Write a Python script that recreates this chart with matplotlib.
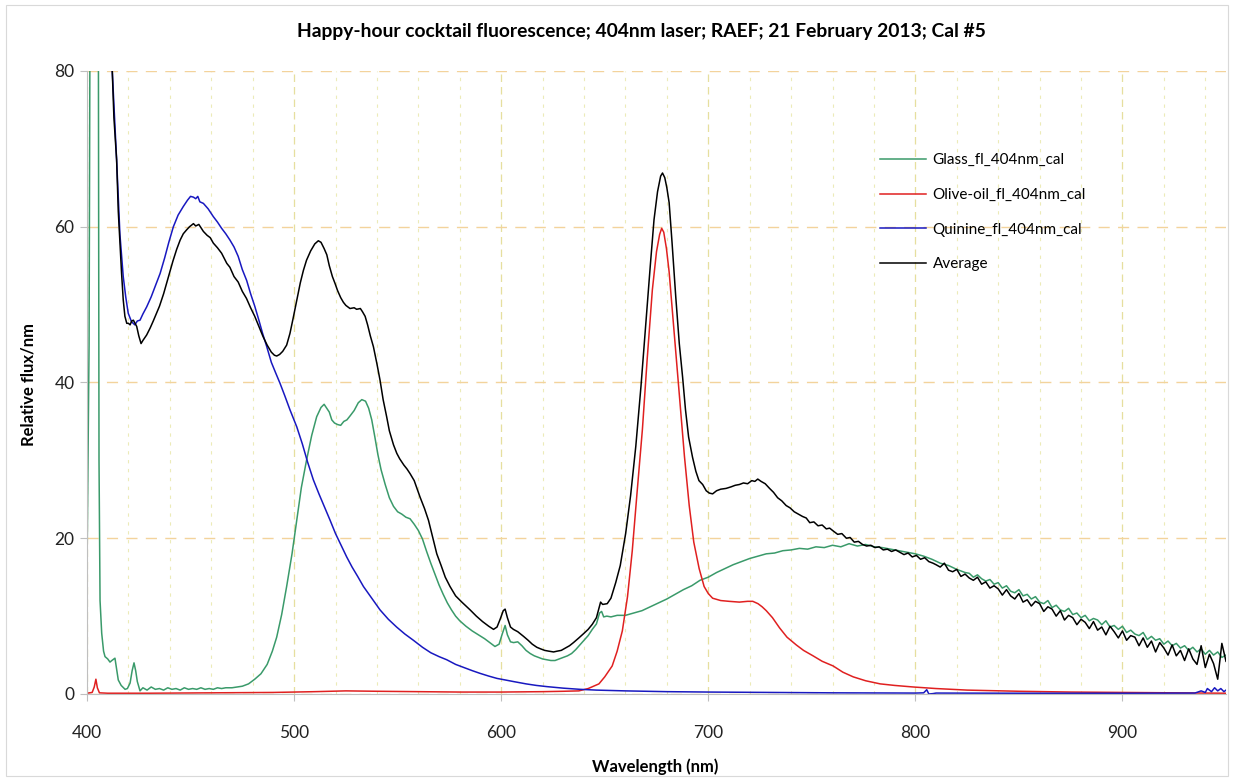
import matplotlib
matplotlib.use("Agg")
import matplotlib.pyplot as plt
from matplotlib.ticker import MultipleLocator
from matplotlib.patches import Rectangle

plt.rcParams['font.family'] = ['Lato', 'DejaVu Sans']

title = "Happy-hour cocktail fluorescence; 404nm laser; RAEF; 21 February 2013; Cal #5"
series_names = ["Glass_fl_404nm_cal", "Olive-oil_fl_404nm_cal", "Quinine_fl_404nm_cal", "Average"]
series_colors = ["#3a9a6a", "#e02020", "#1818c0", "#000000"]

# Glass fluorescence (green)
glass_nm = [400, 401, 401.8, 404, 405.3, 405.8, 406.3, 407.1, 408, 408.7, 410, 411.1, 412, 413.5,
            414.3, 415.1, 416.5, 418.4, 419.5, 420.8, 421.8, 422.7, 423.5, 424.3, 425.6, 427, 429,
            431, 433, 435, 437, 439, 441, 443, 445, 447, 449, 451, 453, 455, 457, 459, 461, 463,
            465, 467, 470, 475, 478, 481, 484, 487, 489.5, 491.6, 494, 496.4, 499, 501.3, 503.5,
            506, 508.5, 510.9, 513, 514.5, 516, 517, 518.2, 519.5, 521, 522.5, 524, 525.5, 527,
            529, 531, 532.7, 534.5, 536, 537.5, 539, 540.5, 542, 544, 546, 548, 550, 552, 554,
            556, 558, 560, 562, 564, 566, 568, 570, 572, 574, 576, 578, 580, 583, 586, 589, 592,
            595, 597, 599, 600.5, 601.9, 603, 604.5, 606, 608, 610, 612, 614, 616, 618, 620, 622,
            624, 626, 628, 630, 632, 634, 636, 638, 640, 642, 644, 646, 647.5, 648.5, 649.5, 651,
            653, 656, 660, 664, 668, 672, 676, 680, 684, 688, 692, 696, 700, 704, 708, 712, 716,
            720, 724, 728, 732, 736, 740, 744, 748, 752, 756, 760, 764, 768, 772, 776, 780, 784,
            788, 792, 796, 800, 804, 808, 812, 816, 820, 824,
            826, 828, 830, 832, 834, 836, 838, 840, 842, 844,
            846, 848, 850, 852, 854, 856, 858, 860, 862, 864,
            866, 868, 870, 872, 874, 876, 878, 880, 882, 884,
            886, 888, 890, 892, 894, 896, 898, 900, 902, 904,
            906, 908, 910, 912, 914, 916, 918, 920, 922, 924,
            926, 928, 930, 932, 934, 936, 938, 940, 942, 944,
            946, 948, 950]
glass_flux = [16, 45, 120, 400, 120, 30, 12, 7.8, 5.5, 4.8, 4.5, 4.1, 4.3, 4.6,
              3.2, 1.8, 1.1, 0.6, 0.7, 1.4, 3.0, 4.0, 3.0, 1.6, 0.4, 0.8, 0.5,
              0.9, 0.6, 0.7, 0.5, 0.8, 0.6, 0.7, 0.5, 0.8, 0.6, 0.7, 0.6, 0.8, 0.6, 0.7, 0.6, 0.8,
              0.7, 0.8, 0.8, 1.0, 1.3, 1.9, 2.6, 3.8, 5.5, 7.3, 10.2, 13.8, 18.0, 22.3, 26.5,
              30.0, 33.2, 35.6, 36.8, 37.2, 36.6, 36.2, 35.2, 34.8, 34.6, 34.5, 35.0, 35.2, 35.7,
              36.4, 37.4, 37.8, 37.6, 36.7, 35.2, 33.0, 30.7, 28.8, 26.9, 25.2, 24.1, 23.4, 23.1, 22.7,
              22.5, 21.8, 21.0, 19.9, 18.3, 16.8, 15.4, 14.0, 12.8, 11.7, 10.8, 10.0, 9.4, 8.7, 8.1, 7.6, 7.1,
              6.5, 6.1, 6.4, 7.7, 8.8, 7.6, 6.7, 6.6, 6.7, 6.2, 5.6, 5.2, 4.9, 4.7, 4.5, 4.4,
              4.3, 4.3, 4.5, 4.7, 4.9, 5.2, 5.7, 6.3, 6.9, 7.5, 8.3, 9.0, 10.4, 10.6, 9.9, 10.0,
              9.9, 10.1, 10.1, 10.4, 10.7, 11.2, 11.7, 12.2, 12.8, 13.4, 13.9, 14.6, 15.0, 15.6, 16.1, 16.6, 17.0,
              17.4, 17.7, 18.0, 18.1, 18.4, 18.5, 18.7, 18.6, 18.9, 18.8, 19.1, 18.9, 19.3, 19.0, 19.2, 18.9, 18.8,
              18.6, 18.4, 18.2, 18.0, 17.7, 17.3, 16.8, 16.5, 16.0, 15.6,
              15.5, 15.0, 15.3, 14.8, 14.5, 14.7, 14.1, 14.3, 13.6, 13.9,
              13.2, 13.0, 13.4, 12.6, 12.8, 12.2, 12.5, 11.8, 11.6, 12.0,
              11.1, 11.4, 10.8, 10.6, 11.0, 10.2, 10.4, 9.8, 10.1, 9.4,
              9.7, 9.5, 8.9, 9.4, 8.6, 8.8, 8.3, 8.7, 7.9, 8.2,
              7.7, 7.5, 7.9, 7.0, 7.4, 6.9, 7.1, 6.4, 6.8, 6.2,
              6.5, 5.9, 6.2, 5.6, 6.0, 5.4, 5.8, 5.1, 5.6, 5.0,
              5.4, 4.7, 5.0]

# Olive oil fluorescence (red)
oil_nm = [400, 402.5, 403.5, 404.3, 405, 406, 410, 430, 460, 490, 510, 525, 540, 560, 580, 600,
          620, 630, 637.5, 642, 647.2, 650, 653.6, 656, 658.5, 661, 663.3, 665.5, 668.2, 670.5,
          673, 675, 676.5, 677.5, 678.5, 679.8, 681.1, 683.5, 686, 688.5, 690.8, 693, 695.6, 698,
          700, 702.1, 706, 710, 715, 719, 721.5, 724, 726, 728, 731, 734.4, 738, 742.5, 746,
          750.6, 755, 760.3, 765, 770, 776, 783, 790, 799, 810, 825, 850, 875, 900, 925, 950]
oil_flux = [0.1, 0.2, 0.9, 1.9, 0.8, 0.15, 0.1, 0.1, 0.15, 0.2, 0.3, 0.4, 0.35, 0.3, 0.25, 0.25,
            0.3, 0.35, 0.4, 0.7, 1.3, 2.2, 3.6, 5.5, 8.1, 12.5, 18.4, 25.5, 34.0, 43.0,
            51.9, 56.8, 59.0, 59.8, 59.3, 57.2, 54.2, 46.5, 38.5, 30.5, 24.2, 19.5, 16.1, 13.8,
            12.9, 12.3, 12.0, 11.9, 11.8, 11.9, 11.9, 11.6, 11.2, 10.7, 9.8, 8.5, 7.3, 6.3, 5.6,
            4.9, 4.2, 3.6, 2.8, 2.2, 1.7, 1.3, 1.1, 0.9, 0.7, 0.5, 0.35, 0.25, 0.2, 0.15, 0.1]

# Quinine fluorescence (blue)
quinine_nm = [400, 410, 412.2, 414.3, 415.9, 417.5, 418.7, 419.9, 421.5, 423.1, 424.3, 425.6, 427,
              428.8, 431, 433, 435.3, 437.5, 439.5, 441.7, 444, 446.5, 448.5, 450, 451.4, 452.5,
              453.5, 454.5, 456.2, 458.5, 461, 463, 465, 467, 469, 471, 473, 475, 477.1, 479, 481,
              483, 484.8, 486.8, 489, 491, 493.2, 495.5, 498, 501.3, 504, 506.5, 509.3, 512, 514.7,
              517.4, 520, 522.7, 525.4, 528, 530.7, 533.5, 537.5, 541.5, 545.5, 549.5, 553.5, 557.6,
              562, 566, 570, 573.7, 578, 582, 586, 589.8, 594, 598, 602, 605.9, 612, 617, 622, 630,
              638, 646, 660, 680, 700, 730, 760, 800, 804, 805.5, 806.5, 808.5, 810, 850, 900, 935,
              938, 940, 941, 943, 944.5, 946, 947.5, 949, 950]
quinine_flux = [200, 110, 80, 68.6, 59, 53.6, 51, 48.9, 47.8, 47.4, 47.9, 48.0, 48.8,
                49.7, 51.0, 52.4, 54.0, 56.0, 58.0, 60.0, 61.5, 62.6, 63.4, 63.9, 63.8, 63.6,
                63.9, 63.2, 63.0, 62.3, 61.3, 60.6, 59.8, 59.1, 58.3, 57.4, 56.2, 54.5, 53.1, 51.4, 49.8,
                48.0, 46.3, 44.6, 42.6, 41.3, 39.9, 38.3, 36.5, 34.3, 32.1, 29.8, 27.5, 25.7, 24.0,
                22.3, 20.6, 19.1, 17.6, 16.3, 15.1, 13.8, 12.3, 10.8, 9.6, 8.6, 7.7, 6.9,
                6.0, 5.3, 4.8, 4.4, 3.8, 3.4, 3.0, 2.65, 2.3, 2.0, 1.8, 1.6, 1.3, 1.1, 0.95, 0.75,
                0.6, 0.5, 0.4, 0.3, 0.25, 0.2, 0.15, 0.12, 0.15, 0.55, 0.0, 0.05, 0.12, 0.1, 0.1, 0.12,
                0.4, 0.2, 0.7, 0.3, 0.8, 0.4, 0.7, 0.3, 0.5]

# Average (black)
avg_nm = [405, 410, 412.2, 413, 414.3, 415.1, 415.9, 416.7, 417.5, 418.3, 419.2, 420, 420.8, 421.6,
          422.4, 423.2, 424, 425, 426.1, 427, 428.8, 430.5, 432, 433.6, 435, 437, 438.5, 440,
          441.5, 443.3, 445, 446.5, 448.1, 449.5, 451.4, 452.5, 454, 456.2, 458, 459.5, 461, 463,
          465, 467.5, 469, 471, 473, 475, 477, 479, 481, 483, 485, 487, 489, 490.5, 491.6, 493,
          494.5, 496.4, 498, 499.5, 501.3, 503, 504.5, 506, 508, 510, 511.7, 513, 514.5, 515.8,
          517, 518.5, 519.8, 521, 522.5, 523.8, 525, 527, 529, 530.2, 532, 533, 534.3, 535.5,
          536.8, 538.3, 540, 541.5, 543, 544.7, 546, 548, 549.6, 551, 553, 554.5, 556, 558,
          560.8, 563, 564.9, 566.5, 568.9, 571, 573, 575.3, 578, 581, 585, 588, 591, 594, 596.3,
          598, 599.5, 601, 601.9, 603, 604.5, 605.9, 608, 610.8, 613, 615, 617.2, 619, 621, 623,
          625.3, 627, 629, 631, 633, 634.9, 637.5, 640, 642, 644, 646, 647, 648, 649, 651.2, 653,
          655.3, 657.5, 660.1, 662.5, 665, 667.5, 669.8, 672, 673.8, 675.5, 677, 677.9, 679, 680,
          681.1, 682.5, 684.3, 686, 687.6, 689, 690.5, 692.4, 694, 695.5, 697.3, 699, 700.5,
          702.1, 704, 706, 708.6, 711, 713, 715, 717, 719, 721, 722.5, 723.9, 725.5, 727.5,
          729.6, 731.5, 733.5, 735.5, 737.6, 739.5, 741.5, 743.5, 745.5, 747.3, 749, 751, 753,
          755, 757, 758.6, 760.5, 762.5, 764.5, 766.7, 768.5, 770.5, 772.5, 774.5, 776.5, 778.5,
          780.5, 782.5, 784.5, 786.5, 788.5, 790.5, 792.5, 794.5, 796.5, 798.5, 800.5, 802.5,
          804.5, 806.5, 808.5,
          810, 812, 814, 816, 818, 820, 822, 824, 826, 828,
          830, 832, 834, 836, 838, 840, 842, 844, 846, 848,
          850, 852, 854, 856, 858, 860, 862, 864, 866, 868,
          870, 872, 874, 876, 878, 880, 882, 884, 886, 888,
          890, 892, 894, 896, 898, 900, 902, 904, 906, 908,
          910, 912, 914, 916, 918, 920, 922, 924, 926, 928,
          930, 932, 934, 936, 938, 940, 942, 944, 946, 948,
          950]
avg_flux = [200, 120, 80, 74, 68.6, 62, 57.9, 54, 50.6, 48.5, 47.6, 47.6, 47.4, 47.9,
            48.0, 47.6, 47.2, 46.0, 45.0, 45.4, 46.1, 47.0, 47.9, 48.9, 49.8, 51.4, 52.8, 54.2,
            55.6, 57.1, 58.3, 59.1, 59.6, 60.0, 60.4, 60.1, 60.3, 59.4, 58.9, 58.6, 57.9, 57.3,
            56.6, 55.3, 54.8, 53.6, 52.9, 51.7, 50.8, 49.6, 48.5, 47.2, 45.9, 44.8, 43.9, 43.5, 43.4, 43.6,
            44.0, 44.8, 46.3, 48.2, 50.6, 52.8, 54.4, 55.7, 56.9, 57.8, 58.2, 58.0, 57.2, 56.4,
            55.0, 53.6, 52.7, 51.8, 50.9, 50.3, 49.9, 49.5, 49.6, 49.4, 49.5, 49.1, 48.5, 47.4,
            46.0, 44.6, 42.4, 40.3, 37.8, 35.6, 33.8, 32.0, 30.9, 30.2, 29.4, 28.9, 28.3, 27.4,
            25.3, 23.8, 22.3, 20.6, 18.0, 16.5, 15.0, 13.8, 12.6, 11.8, 10.8, 10.0, 9.3, 8.7, 8.3,
            8.6, 9.6, 10.7, 10.9, 9.8, 8.6, 8.3, 8.0, 7.4, 6.9, 6.4, 6.0, 5.8, 5.6, 5.5,
            5.4, 5.5, 5.6, 5.9, 6.2, 6.6, 7.2, 7.8, 8.3, 8.95, 9.8, 10.8, 11.8, 11.5, 11.6, 12.3,
            14.3, 16.5, 20.6, 25.5, 31.8, 39.5, 47.5, 55.0, 60.9, 64.5, 66.5, 66.9, 66.3, 65.0,
            63.1, 58.0, 51.0, 45.0, 40.7, 36.5, 33.0, 30.4, 28.6, 27.4, 26.9, 26.1, 25.8,
            25.7, 26.1, 26.3, 26.4, 26.6, 26.8, 26.9, 27.1, 27.0, 27.4, 27.3, 27.6, 27.3, 27.0,
            26.4, 25.9, 25.2, 24.8, 24.2, 23.9, 23.4, 23.1, 22.8, 22.6, 22.0, 22.1, 21.6,
            21.7, 21.2, 21.3, 20.9, 20.5, 20.6, 20.0, 20.1, 19.5, 19.6, 19.2, 19.0, 19.1,
            18.8, 18.9, 18.5, 18.6, 18.3, 18.5, 18.2, 17.9, 18.1, 17.6, 17.8, 17.3,
            17.5, 17.0, 16.8,
            16.6, 16.3, 16.8, 15.9, 15.7, 16.0, 15.1, 15.4, 14.9, 14.6,
            15.0, 14.1, 14.4, 13.6, 13.9, 13.5, 12.7, 13.4, 12.6, 12.2,
            12.9, 11.8, 12.1, 11.3, 11.9, 11.6, 10.6, 11.2, 10.9, 10.0,
            10.7, 9.5, 10.1, 9.8, 8.9, 9.6, 9.2, 8.4, 9.3, 8.2,
            8.6, 7.6, 8.7, 8.0, 7.2, 8.1, 6.9, 7.5, 7.3, 6.2,
            7.2, 6.0, 6.8, 5.4, 6.6, 5.9, 5.0, 6.3, 4.9, 5.6,
            4.3, 5.8, 4.5, 3.8, 6.2, 3.4, 5.1, 3.9, 1.9, 6.5,
            4.2]

fig = plt.figure(figsize=(12.34, 7.81), dpi=100)
fig.patches.append(Rectangle((6 / 1234, 5 / 781), 1222 / 1234, 771 / 781, transform=fig.transFigure,
                             fill=False, edgecolor="#d9d9d9", linewidth=0.8))
ax = fig.add_axes([87 / 1234, 1 - 694 / 781, (1226 - 87) / 1234, (694 - 71) / 781])

data = [(glass_nm, glass_flux), (oil_nm, oil_flux), (quinine_nm, quinine_flux), (avg_nm, avg_flux)]
for (x, y), name, c in zip(data, series_names, series_colors):
    ax.plot(x, y, color=c, lw=1.1, label=name)

ax.set_xlim(400, 950)
ax.set_ylim(0, 80)
ax.xaxis.set_major_locator(MultipleLocator(100))
ax.xaxis.set_minor_locator(MultipleLocator(20))
ax.yaxis.set_major_locator(MultipleLocator(20))

ax.grid(True, axis='x', which='major', color="#e6df9e", ls=(0, (6, 4)), lw=0.9)
ax.grid(True, axis='x', which='minor', color="#ecebb8", ls=(0, (3, 5)), lw=0.8)
ax.grid(True, axis='y', which='major', color="#f3d39c", ls=(0, (8, 6)), lw=1.0)
ax.set_axisbelow(True)

for s in ['top', 'right']:
    ax.spines[s].set_visible(False)
for s in ['left', 'bottom']:
    ax.spines[s].set_color("#bfbfbf")
ax.tick_params(axis='both', which='major', length=5, color="#bfbfbf", labelsize=12.5, labelcolor="#222222")
ax.tick_params(axis='x', which='major', pad=17)
ax.tick_params(axis='y', which='major', pad=4)
ax.tick_params(which='minor', length=0)

fig.text(641 / 1234, 1 - 31 / 781, title, ha='center', va='center', fontsize=13.9, fontweight='bold')
fig.text(655 / 1234, 1 - 767 / 781, "Wavelength (nm)", ha='center', va='center', fontsize=12, fontweight='bold')
fig.text(28 / 1234, 1 - 384 / 781, "Relative flux/nm", ha='center', va='center', rotation=90,
         fontsize=12, fontweight='bold')

ax.legend(loc='upper left', bbox_to_anchor=(0.684, 0.89), frameon=False, fontsize=11,
          handlelength=3.0, labelspacing=1.35, handletextpad=0.45)

fig.savefig("out.png", dpi=100)
